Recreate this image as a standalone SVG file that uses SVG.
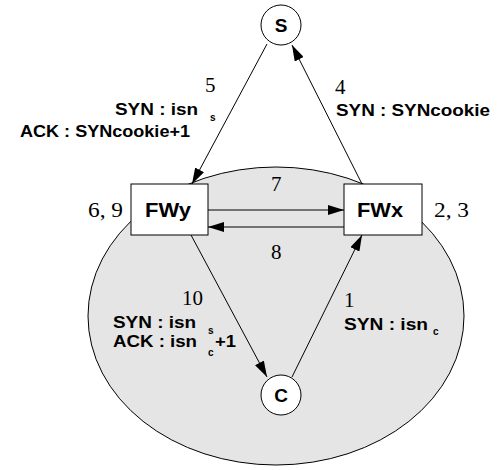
<svg xmlns="http://www.w3.org/2000/svg" width="504" height="470" viewBox="0 0 504 470">
<style>
.b{font-family:"Liberation Sans",Arial,sans-serif;font-weight:bold;fill:#000}
.lb{font-size:16px}
.sub{font-size:10px}
.n{font-family:"Liberation Serif","Times New Roman",serif;font-size:21px;fill:#000}
.ln{stroke:#000;stroke-width:1;fill:none}
.box{fill:#fff;stroke:#000;stroke-width:1}
</style>
<defs>
<marker id="ah" markerUnits="userSpaceOnUse" markerWidth="16" markerHeight="10" refX="16" refY="5" orient="auto">
<path d="M0,0 L16,5 L0,10 Z" fill="#000"/>
</marker>
</defs>
<rect x="0" y="0" width="504" height="470" fill="#fff"/>
<g id="domain">
<ellipse cx="276" cy="316" rx="188" ry="149" fill="#e5e5e5" stroke="#000" stroke-width="1"/>
</g>
<g id="connectors">
<line class="ln" x1="267" y1="44" x2="192" y2="184" marker-end="url(#ah)"/>
<line class="ln" x1="362" y1="184" x2="292" y2="45" marker-end="url(#ah)"/>
<line class="ln" x1="208" y1="210" x2="344" y2="210" marker-end="url(#ah)"/>
<line class="ln" x1="344" y1="227" x2="208" y2="227" marker-end="url(#ah)"/>
<line class="ln" x1="191" y1="235" x2="267" y2="377" marker-end="url(#ah)"/>
<line class="ln" x1="292" y1="377" x2="362" y2="235" marker-end="url(#ah)"/>
</g>
<g id="node-S">
<circle cx="281" cy="25" r="20" fill="#fff" stroke="#000"/>
<text class="b" x="281" y="32" font-size="19" text-anchor="middle">S</text>
</g>
<g id="node-C">
<circle cx="281" cy="395" r="20" fill="#fff" stroke="#000"/>
<text class="b" x="281" y="402" font-size="19" text-anchor="middle">C</text>
</g>
<g id="node-FWy">
<rect class="box" x="131" y="184" width="77" height="51"/>
<text class="b" x="145" y="217" font-size="20" textLength="46" lengthAdjust="spacingAndGlyphs">FWy</text>
</g>
<g id="node-FWx">
<rect class="box" x="344" y="184" width="78" height="51"/>
<text class="b" x="357" y="217" font-size="20" textLength="46" lengthAdjust="spacingAndGlyphs">FWx</text>
</g>
<g id="labels">
<text class="n" x="205" y="92">5</text>
<text class="b lb" x="115" y="115" textLength="83" lengthAdjust="spacingAndGlyphs">SYN : isn</text>
<text class="b sub" x="210" y="121">s</text>
<text class="b lb" x="20" y="137" textLength="170" lengthAdjust="spacingAndGlyphs">ACK : SYNcookie+1</text>
<text class="n" x="335" y="94">4</text>
<text class="b lb" x="336" y="116" textLength="154" lengthAdjust="spacingAndGlyphs">SYN : SYNcookie</text>
<text class="n" x="271" y="191">7</text>
<text class="n" x="271" y="259">8</text>
<text class="n" x="88" y="217" textLength="35" lengthAdjust="spacingAndGlyphs">6, 9</text>
<text class="n" x="434" y="217" textLength="35" lengthAdjust="spacingAndGlyphs">2, 3</text>
<text class="n" x="182" y="305">10</text>
<text class="b lb" x="113" y="328" textLength="83" lengthAdjust="spacingAndGlyphs">SYN : isn</text>
<text class="b sub" x="208" y="334">s</text>
<text class="b lb" x="113" y="347" textLength="84" lengthAdjust="spacingAndGlyphs">ACK : isn</text>
<text class="b sub" x="208" y="356">c</text>
<text class="b lb" x="215" y="347" textLength="21" lengthAdjust="spacingAndGlyphs">+1</text>
<text class="n" x="344" y="307">1</text>
<text class="b lb" x="344" y="330" textLength="84" lengthAdjust="spacingAndGlyphs">SYN  : isn</text>
<text class="b sub" x="433" y="335">c</text>
</g>
</svg>
